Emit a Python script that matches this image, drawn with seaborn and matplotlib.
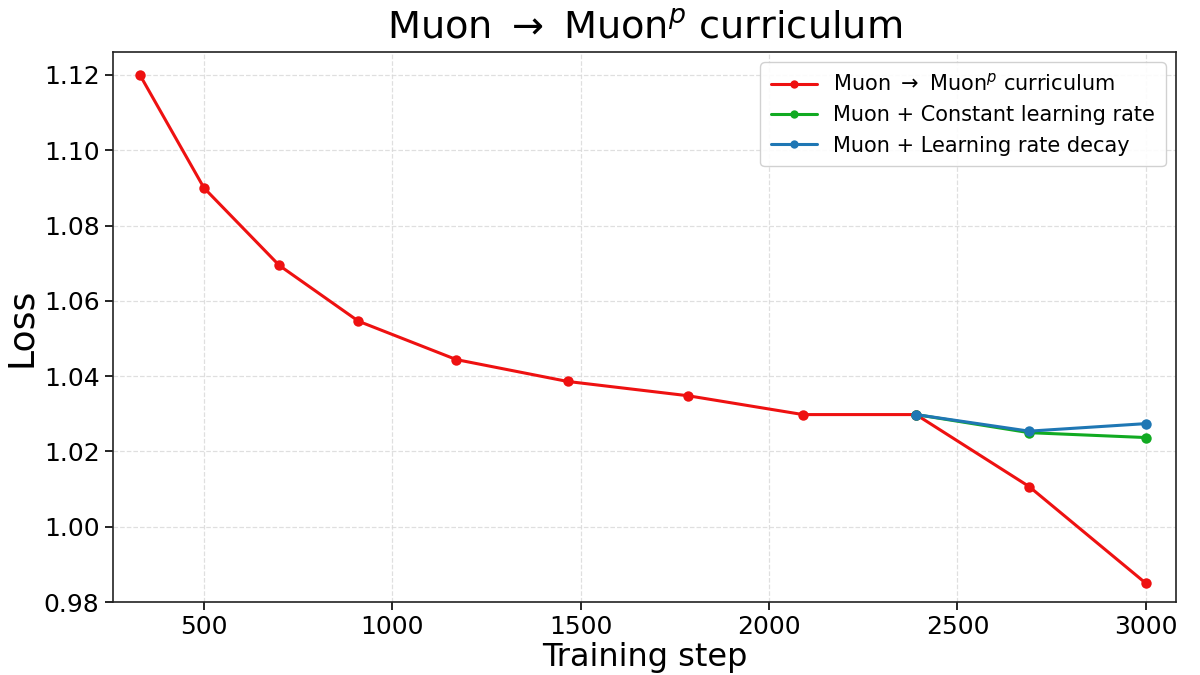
import numpy as np
import pandas as pd
import seaborn as sns
import matplotlib
matplotlib.use("Agg")
import matplotlib.pyplot as plt

# values
curriculum_steps = [330, 500, 700, 910, 1170, 1465, 1785, 2090, 2390, 2690, 3000]
curriculum_loss = [1.120, 1.090, 1.0694, 1.0546, 1.0444, 1.0386, 1.0348, 1.0298, 1.0298, 1.0107, 0.9850]

branch_steps = [2390, 2690, 3000]
constant_loss = [1.0298, 1.0250, 1.0237]
decay_loss = [1.0298, 1.0254, 1.0274]

labels = ["Muon $\\rightarrow$ Muon$^{p}$ curriculum",
          "Muon + Constant learning rate",
          "Muon + Learning rate decay"]
colors = ["#ee1111", "#11aa22", "#1f77b4"]

frames = [
    pd.DataFrame({"step": curriculum_steps, "loss": curriculum_loss, "run": labels[0]}),
    pd.DataFrame({"step": branch_steps, "loss": constant_loss, "run": labels[1]}),
    pd.DataFrame({"step": branch_steps, "loss": decay_loss, "run": labels[2]}),
]
df = pd.concat(frames, ignore_index=True)

sns.set_style("ticks")
plt.rcParams["font.family"] = ["DejaVu Sans"]
plt.rcParams["mathtext.fontset"] = "dejavusans"
plt.rcParams["text.color"] = "black"
plt.rcParams["axes.labelcolor"] = "black"
plt.rcParams["xtick.color"] = "black"
plt.rcParams["ytick.color"] = "black"

fig, ax = plt.subplots(figsize=(12, 6.75), dpi=100)
fig.subplots_adjust(left=0.094, right=0.98, top=0.923, bottom=0.108)

sns.lineplot(data=df, x="step", y="loss", hue="run", hue_order=labels,
             palette=colors, marker="o", markersize=7.5, markeredgewidth=0,
             linewidth=2.2, ax=ax, sort=False)

ax.set_xlim(258, 3080)
ax.set_ylim(0.98, 1.1261)
ax.set_xticks([500, 1000, 1500, 2000, 2500, 3000])
ax.set_yticks(np.round(np.arange(0.98, 1.121, 0.02), 2))
ax.yaxis.set_major_formatter(matplotlib.ticker.FormatStrFormatter("%.2f"))
ax.tick_params(axis="both", labelsize=18, length=6, width=1.2)

ax.grid(True, linestyle="--", color="#d8d8d8", linewidth=0.9, alpha=0.8)
for s in ax.spines.values():
    s.set_visible(True)
    s.set_color("#222222")
    s.set_linewidth(1.2)

ax.set_title("Muon $\\rightarrow$ Muon$^{p}$ curriculum", fontsize=27.5, pad=10)
ax.set_xlabel("Training step", fontsize=23, labelpad=2)
ax.set_ylabel("Loss", fontsize=26, labelpad=4)

leg = ax.legend(loc="upper right", fontsize=15, frameon=True, fancybox=True,
                framealpha=0.9, edgecolor="#cccccc", borderpad=0.5,
                handlelength=2.2, labelspacing=0.5, markerscale=0.8)
leg.get_frame().set_linewidth(1.0)

fig.savefig("out.png", dpi=100)
